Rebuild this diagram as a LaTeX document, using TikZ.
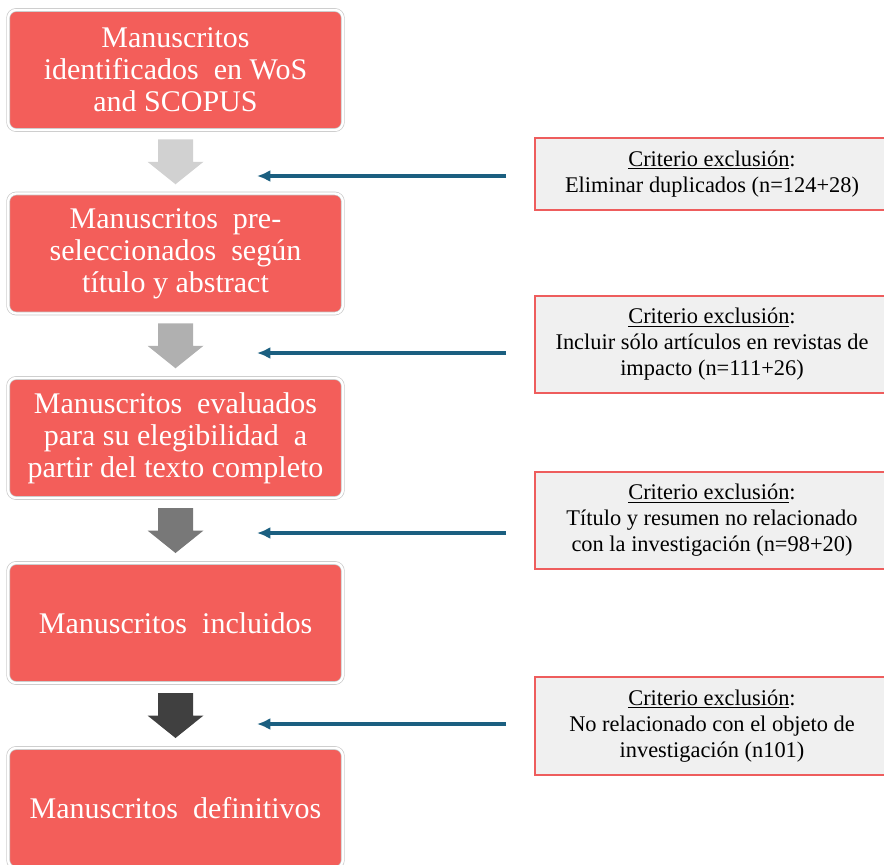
\documentclass[tikz,border=0pt]{standalone}
\usepackage{fontspec}
\setmainfont{Liberation Serif}
\usetikzlibrary{arrows.meta}
\usetikzlibrary{calc}
\definecolor{stagered}{HTML}{F35E5A}
\definecolor{critfill}{HTML}{F0F0F0}
\definecolor{critline}{HTML}{EE5D5D}
\definecolor{critblue}{HTML}{1B5F80}
\tikzstyle{stage}=[rectangle,rounded corners=6pt,fill=stagered,draw=black!22,double=white,double distance=1.8pt,line width=0.5pt,text=white,minimum width=251pt,minimum height=90pt,inner sep=0pt,align=center,font=\rmfamily\fontsize{22.5}{24}\selectfont]
\tikzstyle{criterion}=[rectangle,fill=critfill,draw=critline,line width=1.5pt,minimum width=265pt,inner sep=0pt,align=center,font=\rmfamily\fontsize{16.8}{19.5}\selectfont]
\tikzstyle{exclude}=[critblue,line width=2.3pt,-{Latex[length=10pt,width=9pt]}]
\newcommand{\stagearrow}[3]{% block arrow between two stages
  \fill[#3] ($(#1.south)!0.5!(#2.north)$) ++(-17.5,-22.5) -- ++(35,0) -- ++(0,22.5) -- ++(10.5,0)
        -- ++(-28,22.5) -- ++(-28,-22.5) -- ++(10.5,0) -- cycle;}
\newcommand{\crit}{\underline{Criterio exclusión}:}

\begin{document}
\begin{tikzpicture}[x=0.75pt,y=-0.75pt]  % selection of manuscripts
\useasboundingbox (0,0) rectangle (884,864);

\node[stage] (ident) at (175.5,70) {Manuscritos\\identificados~ en WoS\\and SCOPUS};
\node[stage] (presel) at (175.5,253.5) {Manuscritos~ pre-\\seleccionados~ según\\título y abstract};
\node[stage] (eval) at (175.5,438) {Manuscritos~ evaluados\\para su elegibilidad~ a\\partir del texto completo};
\node[stage] (incl) at (175.5,623) {Manuscritos~ incluidos};
\node[stage] (defin) at (175.5,808) {Manuscritos~ definitivos};

\stagearrow{ident}{presel}{black!18}
\stagearrow{presel}{eval}{black!31}
\stagearrow{eval}{incl}{black!53}
\stagearrow{incl}{defin}{black!75}

\node[criterion,minimum height=54pt] (dupl) at (712,174) {\crit\\Eliminar duplicados (n=124+28)};
\node[criterion,minimum height=72.75pt] (impact) at (712,344.5) {\crit\\Incluir sólo artículos en revistas de\\impacto (n=111+26)};
\node[criterion,minimum height=72.75pt] (title) at (712,520.5) {\crit\\Título y resumen no relacionado\\con la investigación (n=98+20)};
\node[criterion,minimum height=73.5pt] (object) at (712,726) {\crit\\No relacionado con el objeto de\\investigación (n101)};

\coordinate (dupl tail) at (506,176);
\coordinate (dupl head) at (257,176);
\coordinate (impact tail) at (506,353);
\coordinate (impact head) at (257,353);
\coordinate (title tail) at (506,533);
\coordinate (title head) at (257,533);
\coordinate (object tail) at (506,724);
\coordinate (object head) at (257,724);

\draw[exclude] (dupl tail) to (dupl head);
\draw[exclude] (impact tail) to (impact head);
\draw[exclude] (title tail) to (title head);
\draw[exclude] (object tail) to (object head);
\end{tikzpicture}
\end{document}
